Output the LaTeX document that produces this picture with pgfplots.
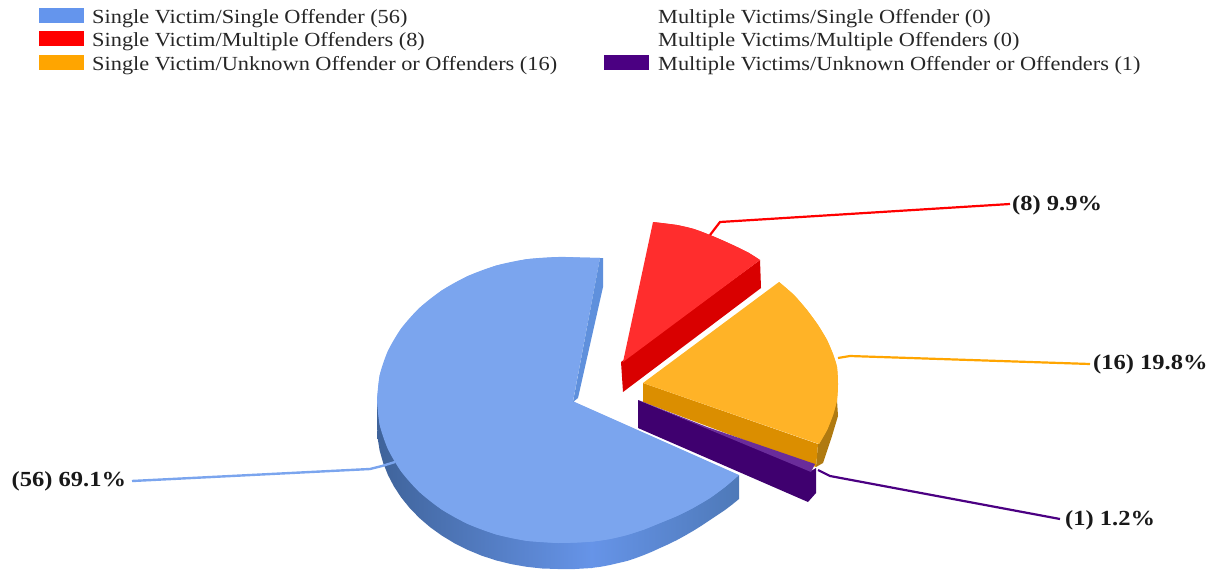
\documentclass[border=0pt]{standalone}
\usepackage{graphicx}
\usepackage{pgfplots}
\pgfplotsset{compat=1.18}
\usepackage{fontspec}
\setmainfont{Liberation Serif}

\definecolor{blueleg}{HTML}{6495ED}
\definecolor{bluetop}{HTML}{7BA5EE}
\definecolor{bluedark}{HTML}{3F639A}
\definecolor{bluelite}{HTML}{6694E8}
\definecolor{bluemid}{HTML}{4E79B8}
\definecolor{bluestrip}{HTML}{5F90DC}
\definecolor{redtop}{HTML}{FF2D2D}
\definecolor{redside}{HTML}{D90000}
\definecolor{orgleg}{HTML}{FFA500}
\definecolor{orgtop}{HTML}{FFB327}
\definecolor{orgside}{HTML}{DB8E00}
\definecolor{orgdark}{HTML}{B07A10}
\definecolor{purleg}{HTML}{4B0082}
\definecolor{purtop}{HTML}{6A2C9A}
\definecolor{purside}{HTML}{3F006F}

\newcommand{\leg}[2]{\node[anchor=base west,inner sep=0pt,text=black!85] at (axis cs:#1) {\scalebox{1.117}[1]{\fontsize{20}{20}\selectfont #2}};}
\newcommand{\lab}[2]{\node[anchor=base west,inner sep=0pt,text=black!90] at (axis cs:#1) {\scalebox{1.14}[1]{\fontsize{21.5}{21.5}\selectfont\bfseries #2}};}

\begin{document}
\begin{tikzpicture}
\begin{axis}[
    scale only axis,
    width=1220pt,
    height=573pt,
    xmin=0, xmax=1220,
    ymin=0, ymax=573,
    y dir=reverse,
    hide axis,
    no markers,
    clip=false,
]

% legend swatches
\addplot[fill=blueleg,draw=none] coordinates {(39,8) (84,8) (84,23) (39,23)};
\addplot[fill=red,draw=none] coordinates {(39,31) (84,31) (84,46) (39,46)};
\addplot[fill=orgleg,draw=none] coordinates {(39,55) (84,55) (84,70) (39,70)};
\addplot[fill=purleg,draw=none] coordinates {(604,55) (649,55) (649,70) (604,70)};

% blue slice, side wall
\addplot[left color=bluedark,right color=bluelite,draw=none] coordinates {
    (377,400) (377,426) (377.7,438.5) (379.7,450.8) (383.2,463) (387.9,474.9)
    (393.9,486.4) (401.2,497.5) (409.7,508) (419.3,517.9) (430,527.1) (441.7,535.5)
    (454.2,543.1) (467.5,549.8) (481.5,555.6) (496.1,560.4) (511.2,564.1) (526.6,566.8)
    (542.2,568.5) (558,569) (575,569) (592,568) (592,500)
};
\addplot[left color=bluelite,right color=bluemid,draw=none] coordinates {
    (591,500) (591,568) (601,566.7) (610,565) (618.5,563) (627,561) (635.5,558.2)
    (644,555) (652,551.7) (660,548) (668.5,544.2) (677,540) (685,535.6) (693,531)
    (701.5,525.7) (710,520) (717.5,515) (725,510) (732,504.7) (739,499) (739,475)
};
% blue slice, top: smooth rim pieces under the polygon
\addplot[fill=bluetop,draw=none,smooth] coordinates {
    (600,258) (580,257.5) (558,257) (526.6,259.2) (496.1,265.6)
    (467.5,276.2) (441.7,290.5) (419.3,308.1) (401.2,328.5) (387.9,351.1)
    (379.7,375.2) (377,400)
};
\addplot[fill=bluetop,draw=none,smooth] coordinates {
    (377,400) (379.7,424.8) (387.9,448.9) (401.2,471.5)
    (419.3,491.9) (441.7,509.5) (467.5,523.8) (496.1,534.4) (526.6,540.8) (558,543)
};
\addplot[fill=bluetop,draw=none,smooth] coordinates {
    (558,543) (575,542.6) (593,541.5) (610,539) (627,535) (644,529.5) (660,523)
    (677,516) (693,508) (710,498) (725,487) (739,475)
};
\addplot[fill=bluetop,draw=none] coordinates {
    (573,401) (600,258) (580,257.5) (558,257) (526.6,259.2) (496.1,265.6)
    (467.5,276.2) (441.7,290.5) (419.3,308.1) (401.2,328.5) (387.9,351.1)
    (379.7,375.2) (377,400) (379.7,424.8) (387.9,448.9) (401.2,471.5)
    (419.3,491.9) (441.7,509.5) (467.5,523.8) (496.1,534.4) (526.6,540.8)
    (558,543) (575,542.6) (593,541.5) (610,539) (627,535) (644,529.5) (660,523)
    (677,516) (693,508) (710,498) (725,487) (739,475) (577,403)
};
\addplot[fill=bluestrip,draw=none] coordinates {
    (573,402) (600,258) (603,258) (603,287) (578,398)
};

% red slice
\addplot[fill=redside,draw=none] coordinates {
    (621,362) (760,260) (761,288) (623,392)
};
\addplot[fill=redtop,draw=none,smooth] coordinates {
    (653,222) (677,225) (694,229) (710,235) (724,241) (737,247) (749,253) (760,260)
};
\addplot[fill=redtop,draw=none] coordinates {
    (653,222) (677,225) (694,229) (710,235) (724,241) (737,247) (749,253)
    (760,260) (623,362)
};

% orange slice
\addplot[fill=orgdark,draw=none] coordinates {
    (818,444) (827,430) (837,400) (838,416) (832,436) (823,463) (816,467)
};
\addplot[fill=orgside,draw=none] coordinates {
    (643,383) (818,444) (816,467) (643,402)
};
\addplot[fill=orgtop,draw=none,smooth] coordinates {
    (779,282) (794,295) (807,310) (818,325) (827,340) (833,354) (837,367)
    (838,384) (837,400) (833,415) (827,430) (819,444)
};
\addplot[fill=orgtop,draw=none] coordinates {
    (779,282) (794,295) (807,310) (818,325) (827,340) (833,354) (837,367)
    (838,384) (837,400) (833,415) (827,430) (819,444) (643,383)
};

% purple slice
\addplot[fill=purside,draw=none] coordinates {
    (638,400) (811,471) (816,468) (816,493) (808,502) (638,428)
};
\addplot[fill=purtop,draw=none] coordinates {
    (638,400) (707,427) (815,464) (811,472)
};

% leader lines
\addplot[color=bluetop,line width=2.4pt] coordinates {(132,481) (370,469) (382,466) (395,462)};
\addplot[color=red,line width=2.2pt] coordinates {(1010,204) (720,222) (710,235)};
\addplot[color=orgleg,line width=2.2pt] coordinates {(1090,364) (850,356) (838,358)};
\addplot[color=purleg,line width=2.2pt] coordinates {(1060,519) (830,476) (818,470)};

% legend text
\leg{92,23}{Single Victim/Single Offender (56)}
\leg{92,46}{Single Victim/Multiple Offenders (8)}
\leg{92,70}{Single Victim/Unknown Offender or Offenders (16)}
\leg{658,23}{Multiple Victims/Single Offender (0)}
\leg{658,46}{Multiple Victims/Multiple Offenders (0)}
\leg{658,70}{Multiple Victims/Unknown Offender or Offenders (1)}

% slice labels
\lab{11.5,486}{(56) 69.1\%}
\lab{1012,210}{(8) 9.9\%}
\lab{1093,369}{(16) 19.8\%}
\lab{1065,525}{(1) 1.2\%}

% full page extent
\path (axis cs:0,0) rectangle (axis cs:1220,573);
\end{axis}
\end{tikzpicture}
\end{document}
